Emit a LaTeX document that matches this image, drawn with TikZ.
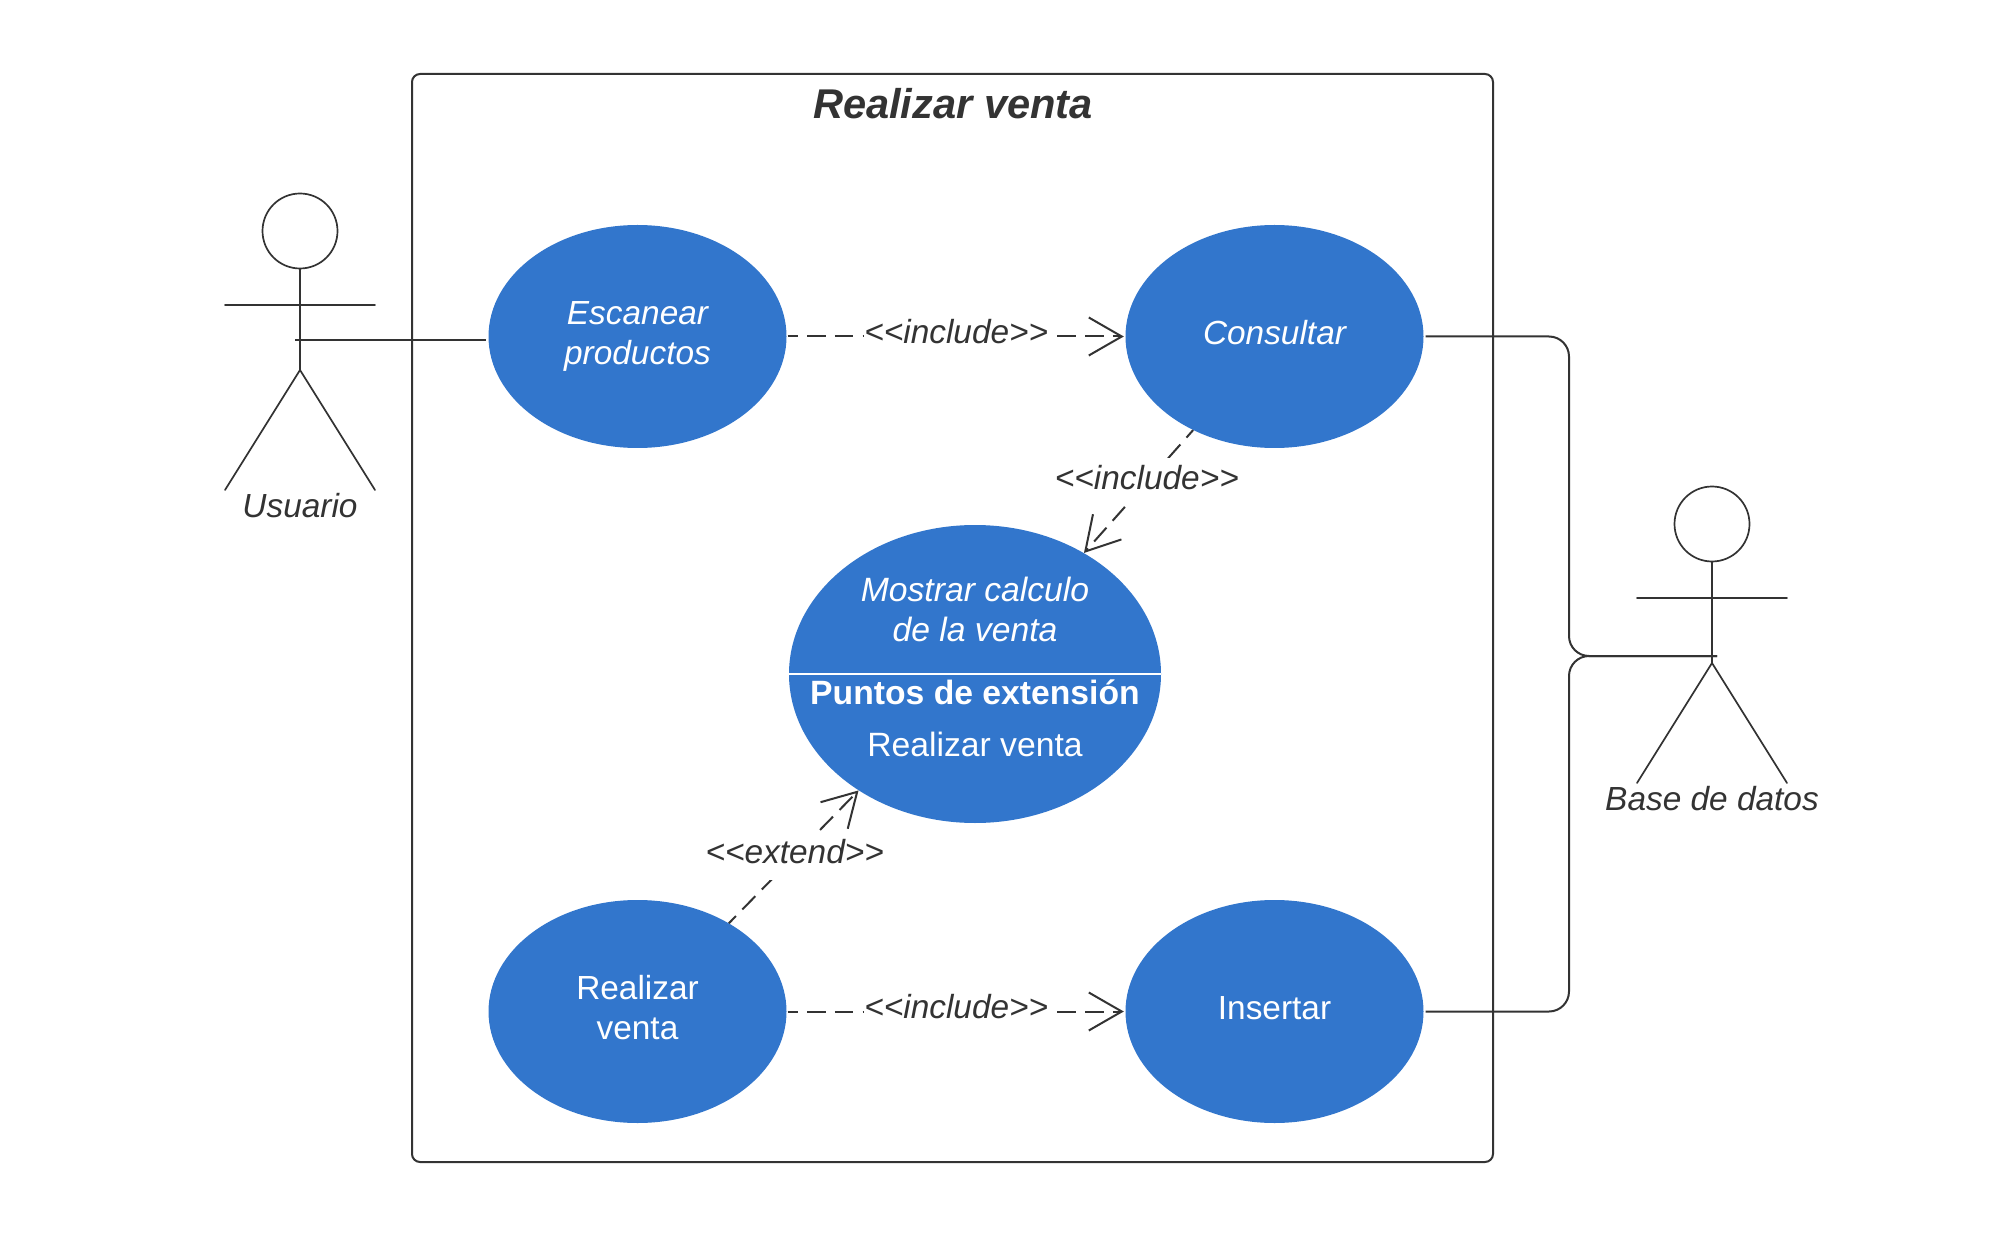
\documentclass[tikz,border=0pt]{standalone}
\usepackage{fontspec}
\setmainfont{Liberation Sans}
\usetikzlibrary{arrows.meta,shapes.geometric}
\definecolor{ink}{HTML}{333333}
\definecolor{ucblue}{HTML}{3276CC}
\newcommand{\uctext}[1]{\raisebox{5pt}{\begin{tabular}{@{}c@{}}#1\end{tabular}}}
\tikzset{
  x=1pt,y=-1pt,
  base/.style={font=\fontsize{33.4}{40}\selectfont},
  ital/.style={font=\fontsize{33.4}{40}\selectfont\itshape},
  usecase/.style={ellipse,fill=ucblue,text=white,inner sep=0pt,minimum width=298,minimum height=223,base,align=center},
  bigcase/.style={ellipse,fill=ucblue,inner sep=0pt,minimum width=372,minimum height=298},
  white text/.style={text=white,inner sep=0pt,align=center},
  ink text/.style={text=ink,base,inner sep=0pt,align=center},
  stick/.style={draw=ink,line width=1.7pt,line cap=round},
  link/.style={draw=ink,line width=2pt,rounded corners=20pt},
  dep/.style={draw=ink,line width=2pt,dash pattern=on 18.5pt off 9.3pt,dash phase=8.5pt,-{Straight Barb[length=33pt,width=38pt,line width=2pt]}},
  deplabel/.style={ink text,fill=white,ital,inner sep=0pt,text height=31pt,text depth=16pt},
}
\begin{document}
\begin{tikzpicture}
\useasboundingbox (0,0) rectangle (2014,1238);
\fill[white] (0,0) rectangle (2014,1238);
% system boundary
\node[draw=ink,line width=2pt,rounded corners=8pt,minimum width=1081,minimum height=1088,inner sep=0pt] (sys) at (952.5,618) {};
\node[ink text,font=\fontsize{41.6}{48}\selectfont\bfseries\itshape] (title) at (953,104) {Realizar venta};
% use cases
\node[usecase,ital] (esc) at (637.5,336.5) {\uctext{Escanear\\productos}};
\node[usecase,ital] (con) at (1274.5,336.5) {\uctext{Consultar}};
\node[usecase] (rea) at (637.5,1011.5) {\uctext{Realizar\\venta}};
\node[usecase] (ins) at (1274.5,1011.5) {\uctext{Insertar}};
\node[bigcase] (mos) at (975,674) {};
\draw[white,line width=1.6pt] (mos.west) -- (mos.east);
\node[white text,font=\fontsize{33.7}{40}\selectfont\itshape] (mos1) at (975,609) {Mostrar calculo\\de la venta};
\node[white text,font=\fontsize{33.7}{40}\selectfont\bfseries] (mos2) at (975,692) {Puntos de extensión};
\node[white text,font=\fontsize{33.7}{40}\selectfont] (mos3) at (975,744) {Realizar venta};
% left actor
\node[draw=ink,line width=1.7pt,circle,minimum size=75,inner sep=0pt] (uhead) at (300,231) {};
\coordinate (uhip) at (300,370);
\coordinate (ularm) at (225,305);
\coordinate (urarm) at (375,305);
\coordinate (ulleg) at (225,490);
\coordinate (urleg) at (375,490);
\coordinate (uhand) at (295,340);
\draw[stick] (uhead.south) -- (uhip);
\draw[stick] (ularm) -- (urarm);
\draw[stick] (ulleg) -- (uhip) -- (urleg);
\node[ink text,ital] (ulabel) at (300,506) {Usuario};
% right actor
\node[draw=ink,line width=1.7pt,circle,minimum size=75,inner sep=0pt] (bhead) at (1712,524) {};
\coordinate (bhip) at (1712,663);
\coordinate (blarm) at (1637,598);
\coordinate (brarm) at (1787,598);
\coordinate (blleg) at (1637,783);
\coordinate (brleg) at (1787,783);
\coordinate (bhand) at (1717,656);
\draw[stick] (bhead.south) -- (bhip);
\draw[stick] (blarm) -- (brarm);
\draw[stick] (blleg) -- (bhip) -- (brleg);
\node[ink text,ital] (blabel) at (1712,799) {Base de datos};
% associations
\draw[link] (uhand) -- ([xshift=-2]esc.west |- uhand);
\draw[link] ([xshift=2]con.east) -| (1569,656) -- (bhand);
\draw[link] ([xshift=2]ins.east) -| (1569,656) -- (bhand);
% dependencies
\draw[dep] ([xshift=1]esc.east) -- node[deplabel,pos=.5,yshift=.3,xshift=.5] (l1) {<{}<include>{}>} ([xshift=-1.5]con.west);
\draw[dep] (con.-131.6) -- node[deplabel,pos=.41,yshift=-1.2,xshift=-1.5] (l2) {<{}<include>{}>} (mos.48);
\draw[dep] (rea.44.8) -- node[deplabel,pos=.515,yshift=-1.2,xshift=-1] (l3) {<{}<extend>{}>} (mos.-135);
\draw[dep] ([xshift=1]rea.east) -- node[deplabel,pos=.5,yshift=.3,xshift=.5] (l4) {<{}<include>{}>} ([xshift=-1.5]ins.west);
\end{tikzpicture}
\end{document}
